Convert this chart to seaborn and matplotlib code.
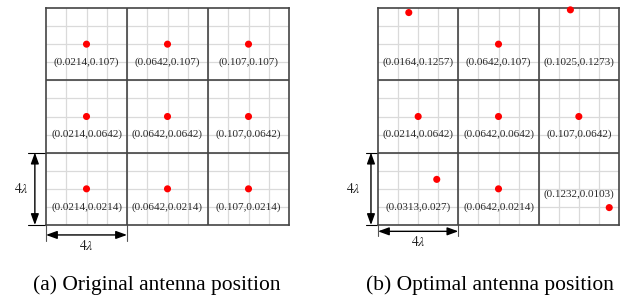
import numpy as np
import pandas as pd
import seaborn as sns
from matplotlib import pyplot as plt

sns.set_theme(style="white")
plt.rcParams["font.family"] = ["Liberation Serif", "DejaVu Serif"]
plt.rcParams["mathtext.fontset"] = "stix"

# wavelength and cell size (one cell = 4 lambda)
lam = 0.0107
n_cells = 3

# antenna coordinates, row by row from the top left cell
orig_x = [0.0214, 0.0642, 0.107, 0.0214, 0.0642, 0.107, 0.0214, 0.0642, 0.107]
orig_y = [0.107, 0.107, 0.107, 0.0642, 0.0642, 0.0642, 0.0214, 0.0214, 0.0214]

opt_x = [0.0164, 0.0642, 0.1025, 0.0214, 0.0642, 0.107, 0.0313, 0.0642, 0.1232]
opt_y = [0.1257, 0.107, 0.1273, 0.0642, 0.0642, 0.0642, 0.027, 0.0214, 0.0103]

captions = ["(a) Original antenna position", "(b) Optimal antenna position"]


def draw_panel(ax, xs, ys, arrow_off, moved_label=None):
    cell = 4 * lam
    size = n_cells * cell
    ax.set_xlim(0, size)
    ax.set_ylim(0, size)

    # fine lambda grid
    fine = np.arange(1, 4 * n_cells) * lam
    for v in fine:
        ax.axvline(v, color="#dadada", lw=0.9, zorder=0)
        ax.axhline(v, color="#dadada", lw=0.9, zorder=0)
    for k in range(1, n_cells):
        ax.axvline(k * cell, color="#444444", lw=1.2, zorder=1)
        ax.axhline(k * cell, color="#444444", lw=1.2, zorder=1)
    ax.set_xticks([])
    ax.set_yticks([])
    for sp in ax.spines.values():
        sp.set_color("#444444")
        sp.set_linewidth(1.2)

    df = pd.DataFrame({"x": xs, "y": ys})
    sns.scatterplot(data=df, x="x", y="y", ax=ax, color="red", s=26,
                    edgecolor="none", zorder=5, clip_on=False)
    ax.set_xlabel("")
    ax.set_ylabel("")

    for i, (x, y) in enumerate(zip(xs, ys)):
        row, col = divmod(i, n_cells)
        cx = (col + 0.5) * cell
        cy = size - (row + 0.5) * cell - lam
        if moved_label == i:
            cy = size - (row + 0.5) * cell - 0.3 * lam
        ax.text(cx, cy, f"({x:g},{y:g})", ha="center", va="center",
                fontsize=8, color="#2a2a2a", zorder=4)

    # dimension arrows for one cell
    ax_off, tick_len, lab_off = arrow_off
    style = "<|-|>,head_width=0.2,head_length=0.55"
    ax.annotate("", xy=(-ax_off, 0), xytext=(-ax_off, cell),
                arrowprops=dict(arrowstyle=style, color="black", lw=1,
                                shrinkA=0, shrinkB=0),
                annotation_clip=False)
    ax.plot([-tick_len, 0], [cell, cell], color="black", lw=0.8, clip_on=False)
    ax.plot([-tick_len, 0], [0, 0], color="black", lw=0.8, clip_on=False)
    ax.text(-lab_off, cell / 2, r"$4\lambda$", ha="right",
            va="center", fontsize=10, color="#222222")

    ax.annotate("", xy=(0, -ax_off), xytext=(cell, -ax_off),
                arrowprops=dict(arrowstyle=style, color="black", lw=1,
                                shrinkA=0, shrinkB=0),
                annotation_clip=False)
    ax.plot([0, 0], [0, -tick_len], color="#555555", lw=0.8, clip_on=False)
    ax.plot([cell, cell], [0, -tick_len], color="#555555", lw=0.8, clip_on=False)
    ax.text(cell / 2, -ax_off - 0.2 * lam, r"$4\lambda$", ha="center",
            va="top", fontsize=10, color="#222222")


fig = plt.figure(figsize=(6.24, 2.97), dpi=100)
ax1 = fig.add_axes([46 / 624, 72 / 297, 243 / 624, 217 / 297])
ax2 = fig.add_axes([378 / 624, 72 / 297, 241 / 624, 217 / 297])

draw_panel(ax1, orig_x, orig_y, (0.55 * lam, 0.9 * lam, 0.85 * lam))
draw_panel(ax2, opt_x, opt_y, (0.35 * lam, 0.6 * lam, 0.85 * lam), moved_label=8)

fig.text(157 / 624, 1 - 290 / 297, captions[0], ha="center", va="baseline",
         fontsize=15.5, color="black")
fig.text(490 / 624, 1 - 290 / 297, captions[1], ha="center", va="baseline",
         fontsize=15.5, color="black")

fig.savefig("out.png", dpi=100)
